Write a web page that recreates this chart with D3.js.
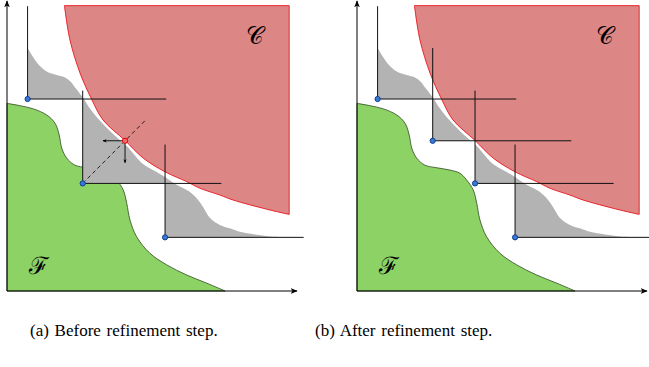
<!DOCTYPE html>
<html>
<head>
<meta charset="utf-8">
<script src="https://cdn.jsdelivr.net/npm/d3@7"></script>
<style>
  body { margin: 0; background: #fff; }
</style>
</head>
<body>
<script>
// Objective space, both axes 0..100
var domainU = [0, 100], domainV = [0, 100];

// Boundary of the infeasible set C (lower-left edge), [u, v]
var cBoundary = [
  [19.8, 98.4], [21.7, 86.6], [25.2, 75.1], [29.2, 66.1], [33.1, 59.0],
  [40.7, 51.9], [47.0, 45.8], [54.5, 41.1], [62.0, 37.7], [66.6, 35.4],
  [73.4, 33.1], [77.9, 31.4], [89.6, 28.2], [97.3, 26.4]
];
var cCorner = [97.3, 98.4];

// Upper edge of the grey (unexplored) band
var greyBoundary = [
  [7.1, 83.8], [9.0, 80.7], [10.7, 78.3], [13.7, 75.7], [17.1, 74.5],
  [19.7, 73.8], [21.7, 72.4], [23.4, 70.3], [25.8, 67.2], [28.0, 63.8],
  [30.9, 60.0], [34.8, 55.9], [39.3, 51.7], [41.3, 50.0], [47.0, 43.7],
  [51.0, 41.4], [54.5, 39.3], [58.5, 36.6], [62.0, 34.8], [64.1, 33.3],
  [65.9, 31.4], [67.6, 29.0], [70.0, 25.2], [73.4, 22.8], [76.9, 21.6],
  [80.3, 20.4], [85.5, 19.5], [90.7, 18.8], [97.6, 18.5]
];

// Boundary of the feasible set F
var fBoundary = [
  [0, 64.7], [4.5, 63.9], [9.1, 62.8], [13.7, 60.7], [16.6, 57.8],
  [18.0, 53.8], [18.9, 49.2], [20.6, 45.8], [23.4, 43.4], [27.5, 42.5],
  [32.1, 41.7], [35.5, 40.6], [37.8, 38.3], [40.1, 34.8], [41.3, 30.2],
  [42.4, 24.5], [44.7, 18.7], [49.3, 13.0], [55.1, 9.0], [62.0, 5.5],
  [68.9, 2.7], [75.2, 0]
];

// Points before and after the refinement step
var pointsBefore = [[7.1, 66.2], [26.1, 37.1], [54.5, 18.5]];
var candidate = [40.7, 51.8];
var pointsAfter = [[7.1, 66.2], [26.1, 51.8], [40.7, 37.1], [54.5, 18.5]];

// how far each point's cone lines reach (u, v)
var reachU = 47.8, reachV = 32;
var arrowLen = 7.6;

var captions = ["(a) Before refinement step.", "(b) After refinement step."];
var setLabels = [{t: "\uD835\uDC9E", u: 85.5, v: 87.8}, {t: "\u2131", u: 10.9, v: 8.6}];

var W = 649, H = 367;

var svg = d3.select("body").append("svg")
    .attr("width", W)
    .attr("height", H);

var defs = svg.append("defs");
defs.append("marker")
    .attr("id", "axarrow")
    .attr("viewBox", "0 0 10 10")
    .attr("refX", 9).attr("refY", 5)
    .attr("markerWidth", 7).attr("markerHeight", 7)
    .attr("markerUnits", "userSpaceOnUse")
    .attr("orient", "auto")
  .append("path")
    .attr("d", "M0,1 L10,5 L0,9 L2.5,5 z")
    .attr("fill", "#000");
defs.append("marker")
    .attr("id", "smarrow")
    .attr("viewBox", "0 0 10 10")
    .attr("refX", 9).attr("refY", 5)
    .attr("markerWidth", 4).attr("markerHeight", 4)
    .attr("markerUnits", "userSpaceOnUse")
    .attr("orient", "auto")
  .append("path")
    .attr("d", "M0,1 L10,5 L0,9 L2.5,5 z")
    .attr("fill", "#000");

var panels = [
  {id: "a", left: 7, pts: pointsBefore, cand: true, caption: captions[0], capX: 30},
  {id: "b", left: 357, pts: pointsAfter, cand: false, caption: captions[1], capX: 315}
];

panels.forEach(function(p) {
  var x = d3.scaleLinear().domain(domainU).range([p.left, p.left + 290]);
  var y = d3.scaleLinear().domain(domainV).range([291, 1]);

  var line = d3.line()
      .x(function(d) { return x(d[0]); })
      .y(function(d) { return y(d[1]); })
      .curve(d3.curveCatmullRom);

  var g = svg.append("g");

  // Feasible set F
  g.append("path")
      .attr("d", line(fBoundary) + "L" + x(0) + "," + y(0) + "Z")
      .attr("fill", "#8cd264")
      .attr("stroke", "#2f4a1f")
      .attr("stroke-width", 0.8);

  // Grey band: below the wavy edge, inside the union of the points' cones
  var clip = defs.append("clipPath").attr("id", "cone-" + p.id);
  clip.selectAll("rect")
    .data(p.pts)
    .join("rect")
      .attr("x", function(d) { return x(d[0]); })
      .attr("y", y(100))
      .attr("width", function(d) { return x(100) - x(d[0]); })
      .attr("height", function(d) { return y(d[1]) - y(100); });

  var last = greyBoundary[greyBoundary.length - 1];
  g.append("path")
      .attr("d", line(greyBoundary) + "L" + x(last[0]) + "," + y(0) +
                 "L" + x(greyBoundary[0][0]) + "," + y(0) + "Z")
      .attr("fill", "#b3b3b3")
      .attr("clip-path", "url(#cone-" + p.id + ")");

  // Infeasible set C
  g.append("path")
      .attr("d", line(cBoundary) + "L" + x(cCorner[0]) + "," + y(cCorner[1]) + "Z")
      .attr("fill", "#dd8686")
      .attr("stroke", "#e8141c")
      .attr("stroke-width", 0.9);

  // Cone lines of each point
  g.selectAll(".vline")
    .data(p.pts)
    .join("line")
      .attr("x1", function(d) { return x(d[0]); })
      .attr("x2", function(d) { return x(d[0]); })
      .attr("y1", function(d) { return y(d[1]); })
      .attr("y2", function(d) { return y(d[1] + reachV); })
      .attr("stroke", "#111")
      .attr("stroke-width", 1);
  g.selectAll(".hline")
    .data(p.pts)
    .join("line")
      .attr("x1", function(d) { return x(d[0]); })
      .attr("x2", function(d) { return Math.min(W, x(d[0] + reachU)); })
      .attr("y1", function(d) { return y(d[1]); })
      .attr("y2", function(d) { return y(d[1]); })
      .attr("stroke", "#111")
      .attr("stroke-width", 1);

  if (p.cand) {
    var from = p.pts[1];
    var t = 1.5;
    g.append("line")
        .attr("x1", x(from[0])).attr("y1", y(from[1]))
        .attr("x2", x(from[0] + t * (candidate[0] - from[0])))
        .attr("y2", y(from[1] + t * (candidate[1] - from[1])))
        .attr("stroke", "#111")
        .attr("stroke-width", 0.9)
        .attr("stroke-dasharray", "4,3");
    g.append("line")
        .attr("x1", x(candidate[0])).attr("y1", y(candidate[1]))
        .attr("x2", x(candidate[0] - arrowLen)).attr("y2", y(candidate[1]))
        .attr("stroke", "#000").attr("stroke-width", 0.9)
        .attr("marker-end", "url(#smarrow)");
    g.append("line")
        .attr("x1", x(candidate[0])).attr("y1", y(candidate[1]))
        .attr("x2", x(candidate[0])).attr("y2", y(candidate[1] - arrowLen))
        .attr("stroke", "#000").attr("stroke-width", 0.9)
        .attr("marker-end", "url(#smarrow)");
    g.append("circle")
        .attr("cx", x(candidate[0])).attr("cy", y(candidate[1]))
        .attr("r", 2.6)
        .attr("fill", "#f07070")
        .attr("stroke", "#e00000")
        .attr("stroke-width", 1);
  }

  g.selectAll(".pt")
    .data(p.pts)
    .join("circle")
      .attr("cx", function(d) { return x(d[0]); })
      .attr("cy", function(d) { return y(d[1]); })
      .attr("r", 2.6)
      .attr("fill", "#3a78d8")
      .attr("stroke", "#123f8f")
      .attr("stroke-width", 1);

  // Axes
  g.append("line")
      .attr("x1", x(0)).attr("y1", y(0))
      .attr("x2", x(0)).attr("y2", y(100))
      .attr("stroke", "#000").attr("stroke-width", 1)
      .attr("marker-end", "url(#axarrow)");
  g.append("line")
      .attr("x1", x(0)).attr("y1", y(0))
      .attr("x2", x(100)).attr("y2", y(0))
      .attr("stroke", "#000").attr("stroke-width", 1)
      .attr("marker-end", "url(#axarrow)");

  // Set labels
  g.selectAll(".lbl")
    .data(setLabels)
    .join("text")
      .attr("x", function(d) { return x(d.u); })
      .attr("y", function(d) { return y(d.v); })
      .attr("text-anchor", "middle")
      .attr("dominant-baseline", "central")
      .style("font-family", "'DejaVu Serif', 'Liberation Serif', serif")
      .style("font-size", "24px")
      .text(function(d) { return d.t; });

  svg.append("text")
      .attr("x", p.capX)
      .attr("y", 336)
      .style("font-family", "'Liberation Serif', 'Times New Roman', serif")
      .style("font-size", "17px")
      .style("word-spacing", "1.5px")
      .text(p.caption);
});
</script>
</body>
</html>
